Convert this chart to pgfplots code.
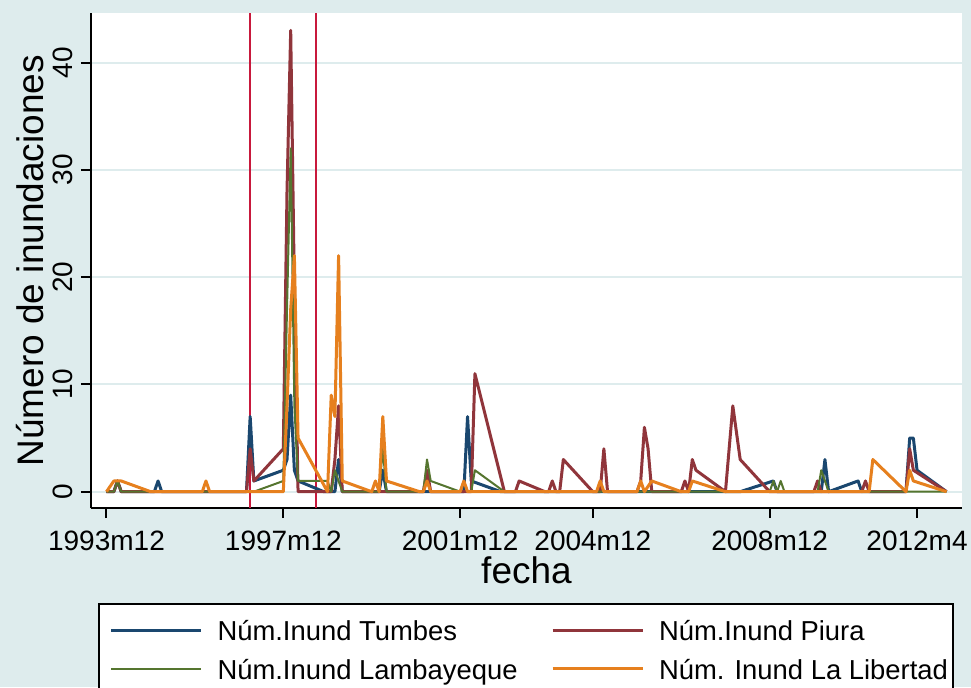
\documentclass[border=0pt]{standalone}
\usepackage{fontspec}
\setmainfont{Liberation Sans}
\usepackage{pgfplots}
\pgfplotsset{compat=1.18}
\usetikzlibrary{calc}
\pgfdeclarelayer{background}
\pgfsetlayers{background,main}
\definecolor{bgc}{RGB}{222,236,237}
\definecolor{gridc}{RGB}{222,236,237}
\definecolor{cnavy}{RGB}{26,71,111}
\definecolor{cmaroon}{RGB}{144,53,59}
\definecolor{cgreen}{RGB}{85,117,47}
\definecolor{corange}{RGB}{230,128,30}
\definecolor{cred}{RGB}{200,25,60}
\begin{document}
\begin{tikzpicture}[x=1pt,y=1pt]
\begin{axis}[
  scale only axis, width=435.5pt, height=247.25pt,
  xmin=402.8, xmax=639.2, ymin=-1.52, ymax=44.57,
  axis x line*=bottom, axis y line*=left,
  axis line style={black, line width=1pt, -},
  axis background/.style={fill=white},
  xtick={407,455,503,539,587,627},
  xticklabels={1993m12,1997m12,2001m12,2004m12,2008m12,2012m4},
  ytick={0,10,20,30,40},
  minor tick num=0,
  tick align=outside, major tick length=5pt,
  tick style={black, line width=1pt},
  ymajorgrids, major grid style={gridc, line width=1pt},
  /pgf/number format/assume math mode=true,
  xticklabel style={anchor=base, font=\fontsize{14}{16}\selectfont},
  xticklabel shift=16pt,
  yticklabel style={rotate=90, anchor=base, font=\fontsize{14}{16}\selectfont},
  yticklabel shift=4pt,
  xlabel={fecha},
  ylabel={Número de inundaciones},
  xlabel style={at={(axis description cs:0.5,-0.1523)}, anchor=base, font=\fontsize{18.5}{22}\selectfont},
  ylabel style={at={(axis description cs:-0.0545,0.5)}, anchor=base, font=\fontsize{18.5}{22}\selectfont},
  legend columns=2,
  legend cell align=left,
  legend image code/.code={\path (-3pt,0pt); \draw[#1] (0pt,0pt) -- (45pt,0pt);},
  legend style={
    at={(axis description cs:0.0075,-0.1921)}, anchor=north west,
    draw=black, line width=1pt, fill=white,
    inner xsep=2.5pt, inner ysep=5.2pt,
    row sep=2.85pt,
    column sep=7.5pt,
    /tikz/every even column/.append style={column sep=13.7pt},
    nodes={inner sep=0pt, text height=13.3pt, text depth=3pt, anchor=west},
    font=\fontsize{13.7}{16}\selectfont,
  },
  every axis plot/.append style={line join=round, mark=none},
]
\addplot[cred, line width=1pt, forget plot] coordinates {(446,-1.52) (446,44.57)};
\addplot[cred, line width=1pt, forget plot] coordinates {(464,-1.52) (464,44.57)};

\addplot[cnavy, line width=1.5pt] coordinates {
(407,0)(409,0)(410,1)(411,0)(420,0)(421,1)(422,0)(445,0)(446,7)(447,1)(455,2)(456,3)(457,9)(458,2)(459,1)(466,0)(469,0)(470,3)(471,0)(481,0)(482,2)(483,0)(504,0)(505,7)(506,1)(514,0)(579,0)(588,1)(589,0)(601,0)(602,3)(603,0)(611,1)(612,0)(624,0)(625,5)(626,5)(627,2)(635,0)};

\addplot[cmaroon, line width=1.5pt] coordinates {
(407,0)(409,0)(410,1)(411,0)(445,0)(446,4)(447,1)(455,4)(456,28)(457,43)(458,19)(459,0)(468,0)(469,3)(470,8)(471,0)(493,0)(494,2)(495,0)(506,0)(507,11)(515,0)(518,0)(519,1)(526,0)(527,0)(528,1)(529,0)(530,0)(531,3)(539,0)(541,0)(542,4)(543,0)(551,0)(552,1)(553,6)(554,4)(555,0)(563,0)(564,1)(565,0)(566,3)(567,2)(575,0)(577,8)(579,3)(587,0)(599,0)(600,1)(601,0)(612,0)(613,1)(614,0)(624,0)(625,4)(626,2)(635,0)};

\addplot[cgreen, line width=1pt] coordinates {
(407,0)(409,0)(410,1)(411,0)(447,0)(455,1)(456,17)(457,32)(458,8)(459,1)(467,1)(468,0)(469,2)(470,1)(471,0)(481,0)(482,4)(483,0)(493,0)(494,3)(495,1)(503,0)(504,1)(505,0)(506,0)(507,2)(515,0)(587,0)(588,1)(589,0)(590,1)(591,0)(600,0)(601,2)(602,1)(603,0)(635,0)};

\addplot[corange, line width=1.5pt] coordinates {
(407,0)(409,1)(411,1)(419,0)(433,0)(434,1)(435,0)(455,0)(456,8)(457,17)(458,22)(459,5)(467,0)(468,9)(469,7)(470,22)(471,1)(479,0)(480,1)(481,0)(482,7)(483,1)(492,0)(493,0)(494,1)(495,0)(503,0)(504,1)(505,0)(540,0)(541,1)(542,0)(551,0)(552,1)(553,0)(555,1)(563,0)(565,0)(566,1)(575,0)(614,0)(615,3)(624,0)(625,2)(626,1)(635,0)};

\legend{Núm.Inund Tumbes, Núm.Inund Piura, Núm.Inund Lambayeque, Núm. Inund La Libertad}
\coordinate (A) at (axis description cs:0,0);
\end{axis}
\coordinate (P1) at ($(A)+(-45.5,-89.5)$);
\coordinate (P2) at ($(P1)+(485.5,343.5)$);
\begin{pgfonlayer}{background}
\fill[bgc] (P1) rectangle (P2);
\end{pgfonlayer}
\pgfresetboundingbox
\useasboundingbox (P1) rectangle (P2);
\end{tikzpicture}
\end{document}
